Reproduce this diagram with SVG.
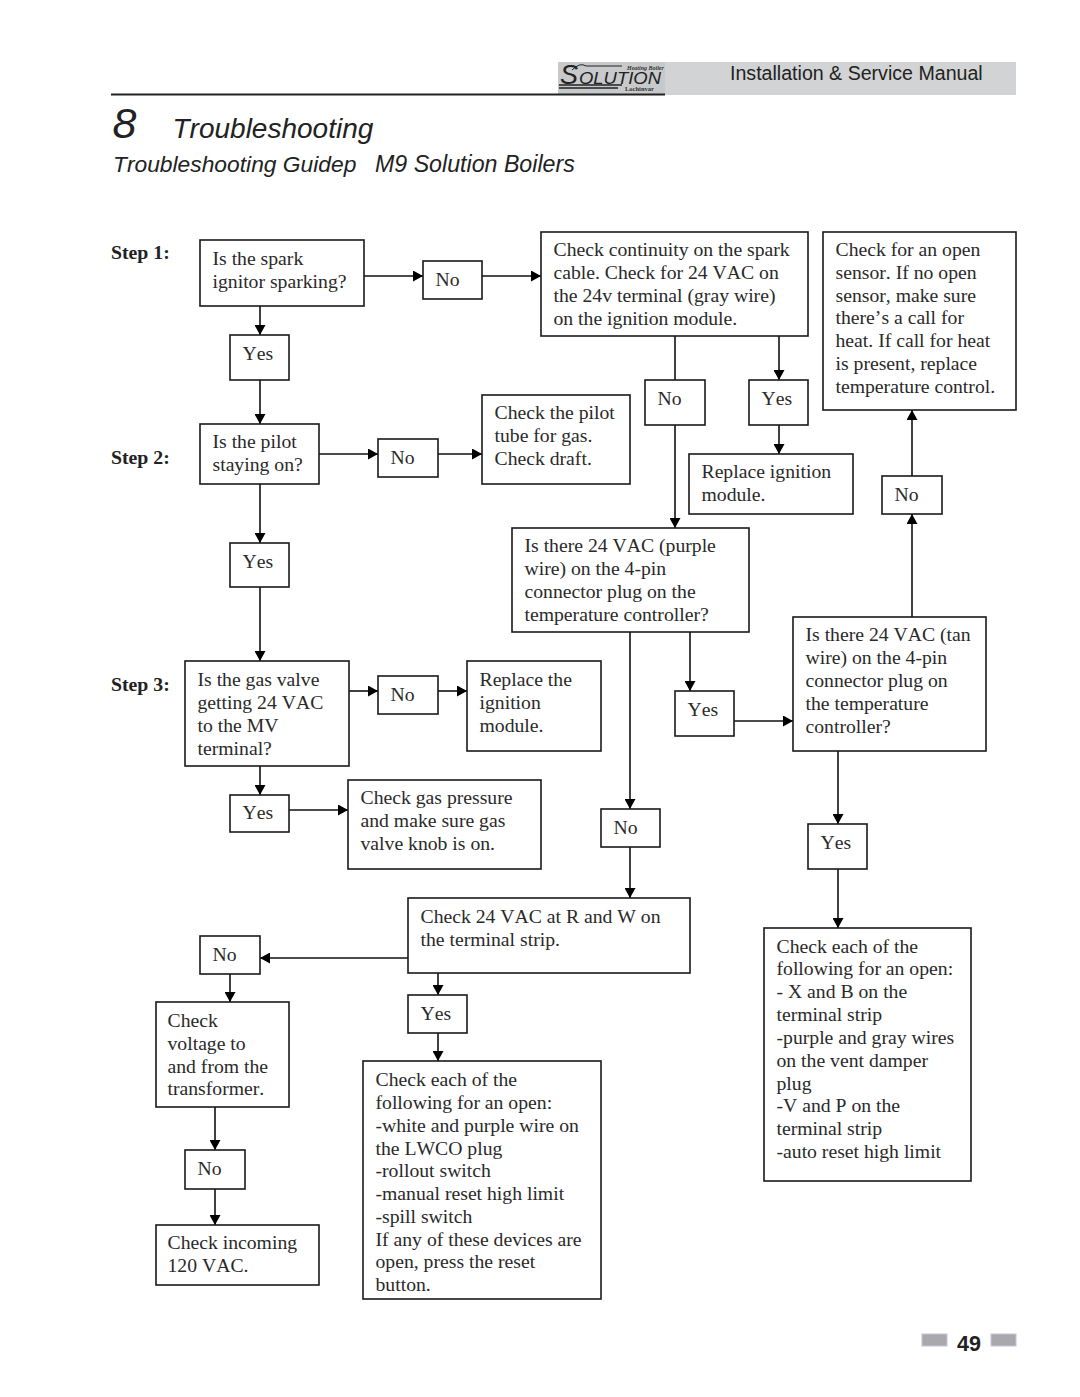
<svg xmlns="http://www.w3.org/2000/svg" width="1080" height="1397" viewBox="0 0 1080 1397">
<style>
  text { font-kerning: none; }
  .box { fill: #fff; stroke: #1a1a1a; stroke-width: 1.6; }
  .t { font-family: "Liberation Serif", "Times New Roman", serif; font-size: 19.7px; fill: #2a2a2a; transform: translateY(-0.6px); }
  .step { font-family: "Liberation Serif", "Times New Roman", serif; font-size: 19.8px; font-weight: bold; fill: #222; }
  .h { font-family: "Liberation Sans", Arial, sans-serif; fill: #222; }
  .i { font-style: italic; }
  .c { fill: none; stroke: #111; stroke-width: 1.6; }
  .a { marker-end: url(#arrow); }
  .tab { fill: #a9a9ad; stroke: #c4c4d8; stroke-width: 1; }
</style>
<defs>
  <marker id="arrow" markerUnits="userSpaceOnUse" markerWidth="10" markerHeight="11" refX="10" refY="5.500" orient="auto">
    <path d="M0,0 L10,5.500 L0,11 Z" fill="#000"/>
  </marker>
</defs>
<rect width="1080" height="1397" fill="#fff"/>

<!-- page header -->
<g id="header">
  <rect x="665" y="62" width="351" height="33" fill="#d2d3d4"/>
  <rect x="558" y="62" width="107" height="33" fill="#c8c9ca"/>
  <text class="h i" x="560" y="84" font-size="27">S</text>
  <text class="h i" x="579" y="84" font-size="16" textLength="82" lengthAdjust="spacingAndGlyphs">OLUTION</text>
  <path d="M572,70 Q580,62 586,66 H622" stroke="#222" stroke-width="1" fill="none"/>
  <text x="627" y="70" font-family="Liberation Serif, serif" font-size="6" font-style="italic" font-weight="bold" fill="#333">Heating Boiler</text>
  <text x="625" y="91" font-family="Liberation Serif, serif" font-size="6.500" font-weight="bold" fill="#333">Lochinvar</text>
  <path d="M559,85 H622 M559,88 H618" stroke="#222" stroke-width="1.600" fill="none"/>
  <path d="M111,94.500 H665" stroke="#222" stroke-width="2" fill="none"/>
  <text class="h" x="730" y="80" font-size="19.600">Installation &amp; Service Manual</text>
  <text class="h i" x="112.500" y="138" font-size="43">8</text>
  <text class="h i" x="172.500" y="138" font-size="28">Troubleshooting</text>
  <text class="h i" x="113" y="172" font-size="22.800">Troubleshooting Guidep</text>
  <text class="h i" x="375" y="172" font-size="23.200">M9 Solution Boilers</text>
</g>

<!-- step labels -->
<g id="steps">
  <text class="step" x="111" y="259">Step 1:</text>
  <text class="step" x="111" y="464">Step 2:</text>
  <text class="step" x="111" y="691">Step 3:</text>
</g>

<!-- connectors -->
<g id="connectors">
  <path class="c a" d="M364,276 H423"/>
  <path class="c a" d="M482,276 H541"/>
  <path class="c a" d="M260,306 V335"/>
  <path class="c a" d="M260,380 V424"/>
  <path class="c a" d="M319,454 H378"/>
  <path class="c a" d="M438,454 H482"/>
  <path class="c a" d="M260,484 V543"/>
  <path class="c a" d="M260,587 V661"/>
  <path class="c a" d="M349,691 H378"/>
  <path class="c a" d="M438,691 H467"/>
  <path class="c a" d="M260,766 V795"/>
  <path class="c a" d="M289,810 H348"/>
  <path class="c" d="M675,336 V380"/>
  <path class="c a" d="M675,425 V528"/>
  <path class="c a" d="M779,336 V380"/>
  <path class="c a" d="M779,425 V454"/>
  <path class="c a" d="M912,617 V514"/>
  <path class="c a" d="M912,476 V410"/>
  <path class="c a" d="M690,632 V691"/>
  <path class="c a" d="M734,721 H793"/>
  <path class="c a" d="M630,632 V809"/>
  <path class="c a" d="M630,847 V898"/>
  <path class="c a" d="M838,751 V824"/>
  <path class="c a" d="M838,869 V928"/>
  <path class="c a" d="M408,958 H260"/>
  <path class="c a" d="M230,974 V1002"/>
  <path class="c a" d="M438,973 V995"/>
  <path class="c a" d="M438,1033 V1061"/>
  <path class="c a" d="M215,1107 V1150"/>
  <path class="c a" d="M215,1189 V1225"/>
</g>

<!-- flowchart nodes -->
<g id="n-spark"><rect class="box" x="200" y="240" width="164" height="66"/>
  <text class="t" x="212.500" y="265.500">Is the spark</text><text class="t" x="212.500" y="288.500">ignitor sparking?</text></g>
<g id="n-no1"><rect class="box" x="423" y="261" width="59" height="38"/><text class="t" x="435.500" y="286.500">No</text></g>
<g id="n-continuity"><rect class="box" x="541" y="232" width="267" height="104"/>
  <text class="t" x="553.500" y="256.500">Check continuity on the spark</text><text class="t" x="553.500" y="279.500">cable. Check for 24 VAC on</text><text class="t" x="553.500" y="302.500">the 24v terminal (gray wire)</text><text class="t" x="553.500" y="325.500">on the ignition module.</text></g>
<g id="n-sensor"><rect class="box" x="823" y="232" width="193" height="178"/>
  <text class="t" x="835.500" y="256.500">Check for an open</text><text class="t" x="835.500" y="279.500">sensor. If no open</text><text class="t" x="835.500" y="302.500">sensor, make sure</text><text class="t" x="835.500" y="324.500">there’s a call for</text><text class="t" x="835.500" y="347.500">heat. If call for heat</text><text class="t" x="835.500" y="370.500">is present, replace</text><text class="t" x="835.500" y="393.500">temperature control.</text></g>
<g id="n-yes1"><rect class="box" x="230" y="335" width="59" height="45"/><text class="t" x="242.500" y="360.500">Yes</text></g>
<g id="n-pilot"><rect class="box" x="200" y="424" width="119" height="60"/>
  <text class="t" x="212.500" y="448.500">Is the pilot</text><text class="t" x="212.500" y="471.500">staying on?</text></g>
<g id="n-no2"><rect class="box" x="378" y="439" width="60" height="38"/><text class="t" x="390.500" y="464.500">No</text></g>
<g id="n-tube"><rect class="box" x="482" y="395" width="148" height="89"/>
  <text class="t" x="494.500" y="419.500">Check the pilot</text><text class="t" x="494.500" y="442.500">tube for gas.</text><text class="t" x="494.500" y="465.500">Check draft.</text></g>
<g id="n-no3"><rect class="box" x="645" y="380" width="60" height="45"/><text class="t" x="657.500" y="405.500">No</text></g>
<g id="n-yes2"><rect class="box" x="749" y="380" width="59" height="45"/><text class="t" x="761.500" y="405.500">Yes</text></g>
<g id="n-replace1"><rect class="box" x="689" y="454" width="164" height="60"/>
  <text class="t" x="701.500" y="478.500">Replace ignition</text><text class="t" x="701.500" y="501.500">module.</text></g>
<g id="n-no4"><rect class="box" x="882" y="476" width="60" height="38"/><text class="t" x="894.500" y="501.500">No</text></g>
<g id="n-purple"><rect class="box" x="512" y="528" width="237" height="104"/>
  <text class="t" x="524.500" y="552.500">Is there 24 VAC (purple</text><text class="t" x="524.500" y="575.500">wire) on the 4-pin</text><text class="t" x="524.500" y="598.500">connector plug on the</text><text class="t" x="524.500" y="621.500">temperature controller?</text></g>
<g id="n-yes3"><rect class="box" x="230" y="543" width="59" height="44"/><text class="t" x="242.500" y="568.500">Yes</text></g>
<g id="n-gasvalve"><rect class="box" x="185" y="661" width="164" height="105"/>
  <text class="t" x="197.500" y="686.500">Is the gas valve</text><text class="t" x="197.500" y="709.500">getting 24 VAC</text><text class="t" x="197.500" y="732.500">to the MV</text><text class="t" x="197.500" y="755.500">terminal?</text></g>
<g id="n-no5"><rect class="box" x="378" y="676" width="60" height="38"/><text class="t" x="390.500" y="701.500">No</text></g>
<g id="n-replace2"><rect class="box" x="467" y="661" width="134" height="90"/>
  <text class="t" x="479.500" y="686.500">Replace the</text><text class="t" x="479.500" y="709.500">ignition</text><text class="t" x="479.500" y="732.500">module.</text></g>
<g id="n-tan"><rect class="box" x="793" y="617" width="193" height="134"/>
  <text class="t" x="805.500" y="641.500">Is there 24 VAC (tan</text><text class="t" x="805.500" y="664.500">wire) on the 4-pin</text><text class="t" x="805.500" y="687.500">connector plug on</text><text class="t" x="805.500" y="710.500">the temperature</text><text class="t" x="805.500" y="733.500">controller?</text></g>
<g id="n-yes4"><rect class="box" x="675" y="691" width="59" height="45"/><text class="t" x="687.500" y="716.500">Yes</text></g>
<g id="n-yes5"><rect class="box" x="230" y="795" width="59" height="37"/><text class="t" x="242.500" y="819.500">Yes</text></g>
<g id="n-pressure"><rect class="box" x="348" y="780" width="193" height="89"/>
  <text class="t" x="360.500" y="804.500">Check gas pressure</text><text class="t" x="360.500" y="827.500">and make sure gas</text><text class="t" x="360.500" y="850.500">valve knob is on.</text></g>
<g id="n-no6"><rect class="box" x="601" y="809" width="59" height="38"/><text class="t" x="613.500" y="834.500">No</text></g>
<g id="n-yes6"><rect class="box" x="808" y="824" width="59" height="45"/><text class="t" x="820.500" y="849.500">Yes</text></g>
<g id="n-rw"><rect class="box" x="408" y="898" width="282" height="75"/>
  <text class="t" x="420.500" y="923.500">Check 24 VAC at R and W on</text><text class="t" x="420.500" y="946.500">the terminal strip.</text></g>
<g id="n-open-right"><rect class="box" x="764" y="928" width="207" height="253"/>
  <text class="t" x="776.500" y="953.500">Check each of the</text><text class="t" x="776.500" y="975.500">following for an open:</text><text class="t" x="776.500" y="998.500">- X and B on the</text><text class="t" x="776.500" y="1021.500">terminal strip</text><text class="t" x="776.500" y="1044.500">-purple and gray wires</text><text class="t" x="776.500" y="1067.500">on the vent damper</text><text class="t" x="776.500" y="1090.500">plug</text><text class="t" x="776.500" y="1112.500">-V and P on the</text><text class="t" x="776.500" y="1135.500">terminal strip</text><text class="t" x="776.500" y="1158.500">-auto reset high limit</text></g>
<g id="n-no7"><rect class="box" x="200" y="936" width="60" height="38"/><text class="t" x="212.500" y="961.500">No</text></g>
<g id="n-yes7"><rect class="box" x="408" y="995" width="59" height="38"/><text class="t" x="420.500" y="1020.500">Yes</text></g>
<g id="n-voltage"><rect class="box" x="156" y="1002" width="133" height="105"/>
  <text class="t" x="167.500" y="1027.500">Check</text><text class="t" x="167.500" y="1050.500">voltage to</text><text class="t" x="167.500" y="1073.500">and from the</text><text class="t" x="167.500" y="1095.500">transformer.</text></g>
<g id="n-open-center"><rect class="box" x="363" y="1061" width="238" height="238"/>
  <text class="t" x="375.500" y="1086.500">Check each of the</text><text class="t" x="375.500" y="1109.500">following for an open:</text><text class="t" x="375.500" y="1132.500">-white and purple wire on</text><text class="t" x="375.500" y="1155.500">the LWCO plug</text><text class="t" x="375.500" y="1177.500">-rollout switch</text><text class="t" x="375.500" y="1200.500">-manual reset high limit</text><text class="t" x="375.500" y="1223.500">-spill switch</text><text class="t" x="375.500" y="1246.500">If any of these devices are</text><text class="t" x="375.500" y="1268.500">open, press the reset</text><text class="t" x="375.500" y="1291.500">button.</text></g>
<g id="n-no8"><rect class="box" x="185" y="1150" width="60" height="39"/><text class="t" x="197.500" y="1175.500">No</text></g>
<g id="n-incoming"><rect class="box" x="156" y="1225" width="163" height="60"/>
  <text class="t" x="167.500" y="1249.500">Check incoming</text><text class="t" x="167.500" y="1272.500">120 VAC.</text></g>

<!-- page number -->
<g id="footer">
  <rect class="tab" x="922" y="1334" width="25" height="12"/>
  <rect class="tab" x="991" y="1334" width="25" height="12"/>
  <text class="h" x="957" y="1351" font-size="21.500" font-weight="bold">49</text>
</g>
</svg>
